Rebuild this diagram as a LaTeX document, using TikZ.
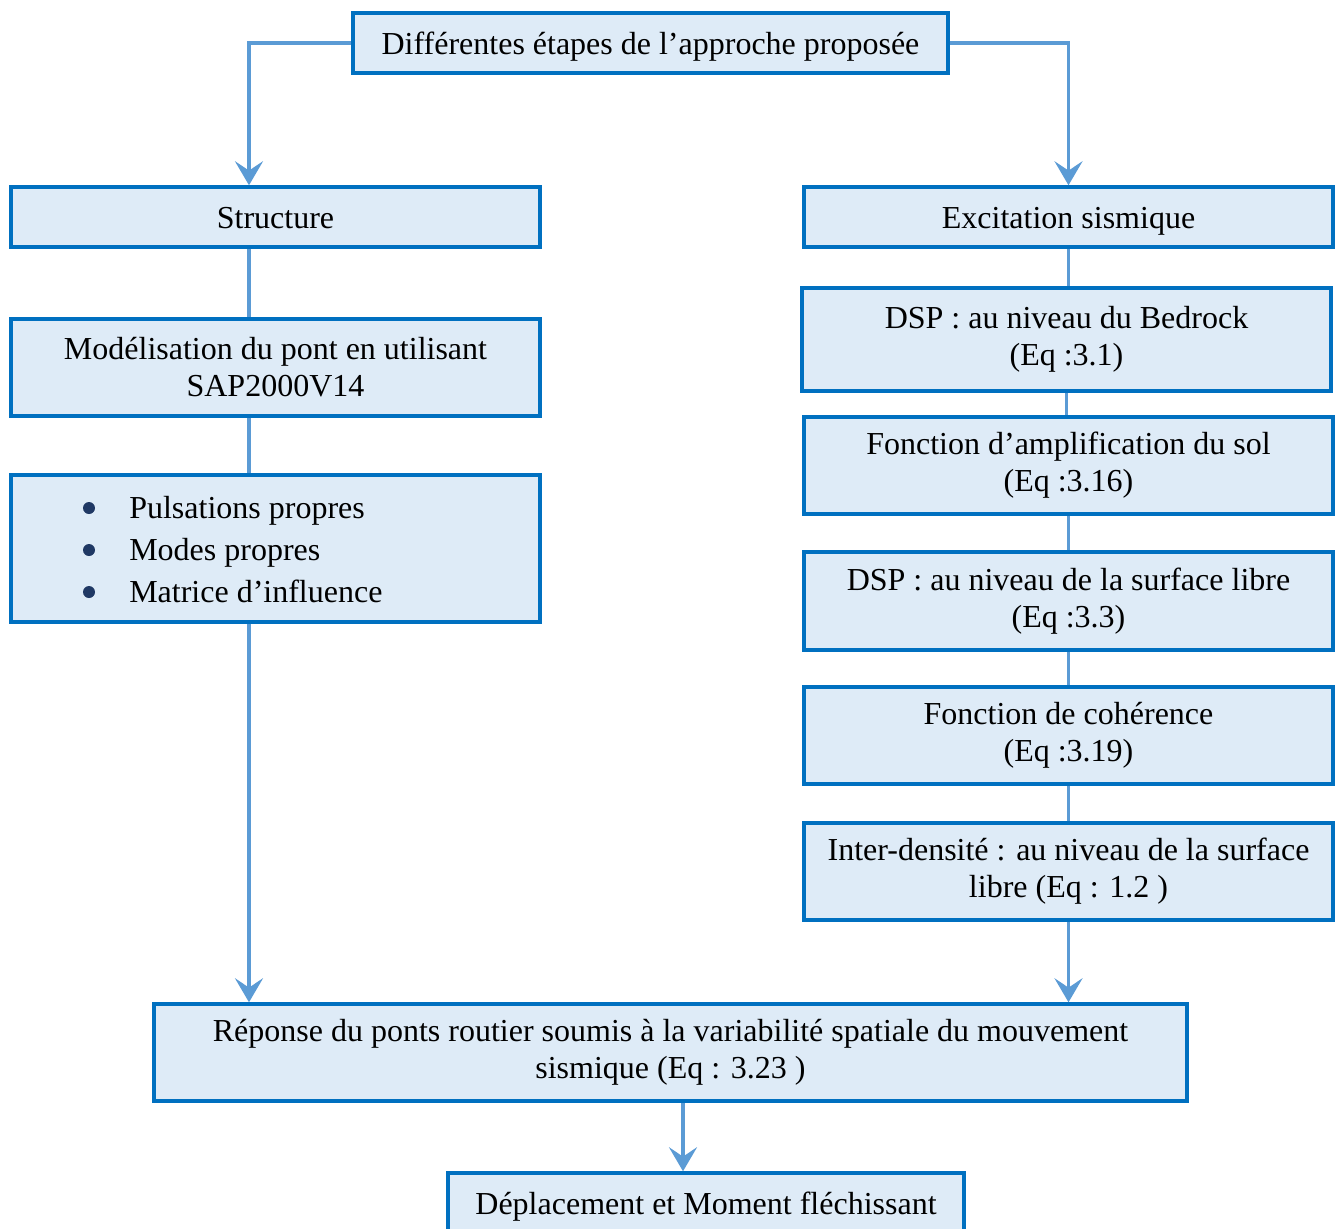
\documentclass[tikz,border=0pt]{standalone}
\usepackage{fontspec}
\setmainfont{Liberation Serif}
\usetikzlibrary{arrows.meta}

\definecolor{boxfill}{HTML}{DEEBF7}
\definecolor{boxline}{HTML}{0070C0}
\definecolor{linkc}{HTML}{5B9BD5}
\definecolor{dotc}{HTML}{1F3864}

\newcommand{\px}{0.75pt}

\tikzset{
  stage/.style 2 args={draw=boxline, fill=boxfill, line width=2.6pt,
    inner sep=0pt, align=center, font=\fontsize{24}{27.8}\selectfont,
    minimum width=#1*\px, minimum height=#2*\px},
  oneline/.style={text height=19pt, text depth=2.5pt},
  link/.style={draw=linkc, line width=2.3pt},
  arr/.style={link, -{Stealth[length=18pt, width=21pt, inset=7pt]}}
}

\begin{document}
\begin{tikzpicture}[x=0.75pt, y=-0.75pt]
  \useasboundingbox (0,0) rectangle (1341,1228);

  % top and the two branches
  \node[stage={595}{60}, oneline] (top) at (650.5,43) {Différentes étapes de l'approche proposée};
  \node[stage={529}{60}, oneline] (struct) at (275.5,217) {Structure};
  \node[stage={529}{60}, oneline] (excit) at (1068.5,217) {Excitation sismique};

  % left column
  \node[stage={529}{97}] (model) at (275.5,367.5) {Modélisation du pont en utilisant\\SAP2000V14};
  \node[stage={529}{147}] (props) at (275.5,548.5) {};
  \node[anchor=west, align=left, inner sep=0pt, font=\fontsize{24}{31.5}\selectfont] (plist) at (129,550)
    {Pulsations propres\\Modes propres\\Matrice d'influence};
  \foreach \y in {508,550,592}
    \fill[dotc] (89,\y) circle (6);

  % right column
  \node[stage={529}{103}] (dsp1) at (1066.5,339.5) {DSP : au niveau du Bedrock\\(Eq :3.1)};
  \node[stage={529}{97}] (ampl) at (1068.5,465.5) {Fonction d'amplification du sol\\(Eq :3.16)};
  \node[stage={529}{98}] (dsp2) at (1068.5,601) {DSP : au niveau de la surface libre\\(Eq :3.3)};
  \node[stage={529}{97}] (coher) at (1068.5,735.5) {Fonction de cohérence\\(Eq :3.19)};
  \node[stage={529}{97}] (inter) at (1068.5,871.5) {Inter-densité : au niveau de la surface\\libre (Eq : 1.2 )};

  % bottom
  \node[stage={1033}{97}] (resp) at (670.5,1052.5) {Réponse du ponts routier soumis à la variabilité spatiale du mouvement\\sismique (Eq : 3.23 )};
  \node[stage={516}{60}, oneline] (depl) at (706,1203) {Déplacement et Moment fléchissant};

  \coordinate (lx) at (249,0);
  \coordinate (mx) at (683,0);

  % connectors
  \draw[arr] (top.west) -| (lx |- struct.north);
  \draw[arr] (top.east) -| (excit.north);
  \draw[link] (lx |- struct.south) -- (lx |- model.north);
  \draw[link] (lx |- model.south) -- (lx |- props.north);
  \draw[arr] (lx |- props.south) -- (lx |- resp.north);
  \foreach \a/\b in {excit/dsp1, dsp1/ampl, ampl/dsp2, dsp2/coher, coher/inter}
    \draw[link] (\a.south) -- (\a.south |- \b.north);
  \draw[arr] (inter.south) -- (inter.south |- resp.north);
  \draw[arr] (mx |- resp.south) -- (mx |- depl.north);
\end{tikzpicture}
\end{document}
